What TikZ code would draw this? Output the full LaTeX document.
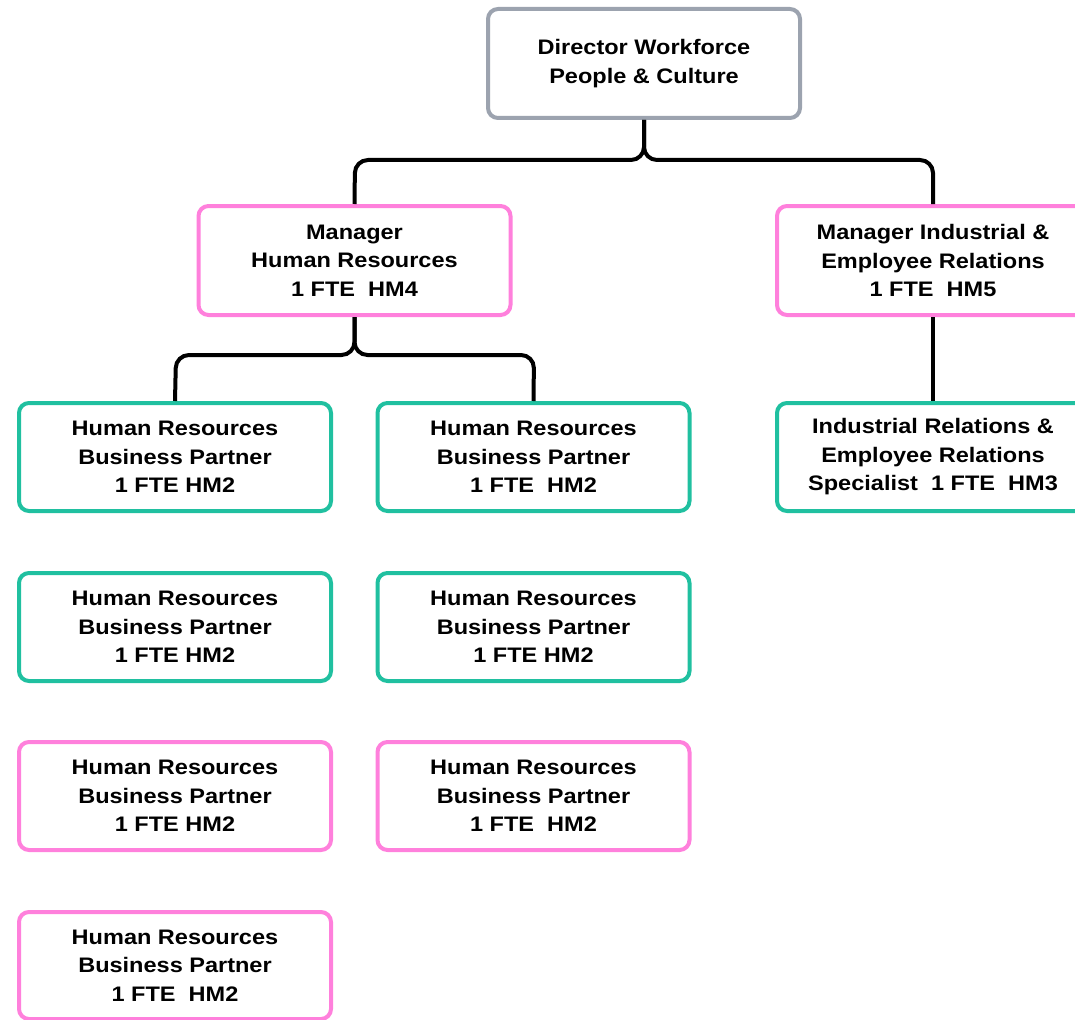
\documentclass[tikz,border=0pt]{standalone}
\usepackage{fontspec}
\setmainfont{Liberation Sans}[FakeStretch=1.12]
\begin{document}
\begin{tikzpicture}[x=1pt,y=-1pt,
  box/.style={draw, line width=4pt, rounded corners=10pt, fill=white,
    minimum width=312pt, minimum height=108pt, align=center, inner sep=0pt,
    font=\fontsize{21}{28.5}\selectfont\bfseries},
  graybox/.style={box, draw=dirgray},
  pinkbox/.style={box, draw=mgrpink},
  tealbox/.style={box, draw=bpteal},
  conn/.style={draw=black, line width=4pt, rounded corners=13pt}]
\definecolor{dirgray}{RGB}{156,163,175}
\definecolor{mgrpink}{RGB}{255,128,220}
\definecolor{bpteal}{RGB}{32,192,160}
\useasboundingbox (0,0) rectangle (1075,1019);
\begin{scope}
\clip (0,0) rectangle (1075,1019);
% connectors
\coordinate (jdl) at (355,160);
\coordinate (jdr) at (933,160);
\coordinate (jhl) at (176,355);
\coordinate (jhr) at (534,355);
\node[graybox, minimum height=109pt] (dir) at (644,63.5) {Director Workforce\\People \& Culture};
\node[pinkbox, minimum height=109pt] (mhr) at (354.5,260.5) {Manager\\Human Resources\\1 FTE~~HM4};
\node[pinkbox, minimum height=109pt] (mir) at (933,260.5) {Manager Industrial \&\\Employee Relations\\1 FTE~~HM5};
\node[tealbox] (b1l) at (175,457) {Human Resources\\Business Partner\\1 FTE HM2};
\node[tealbox] (b1m) at (533.5,457) {Human Resources\\Business Partner\\1 FTE~~HM2};
\node[tealbox] (irs) at (933,457) {Industrial Relations \&\\Employee Relations\\Specialist~~1 FTE~~HM3};
\node[tealbox] (b2l) at (175,627) {Human Resources\\Business Partner\\1 FTE HM2};
\node[tealbox] (b2m) at (533.5,627) {Human Resources\\Business Partner\\1 FTE HM2};
\node[pinkbox] (b3l) at (175,796) {Human Resources\\Business Partner\\1 FTE HM2};
\node[pinkbox] (b3m) at (533.5,796) {Human Resources\\Business Partner\\1 FTE~~HM2};
\node[pinkbox, minimum height=107pt] (b4l) at (175,965.5) {Human Resources\\Business Partner\\1 FTE~~HM2};
\draw[conn] (dir.south) |- (jdl) -- (mhr.north);
\draw[conn] (dir.south) |- (jdr) -- (mir.north);
\draw[conn] (mhr.south) |- (jhl) -- (b1l.north);
\draw[conn] (mhr.south) |- (jhr) -- (b1m.north);
\draw[conn] (mir.south) -- (irs.north);
\end{scope}
\end{tikzpicture}
\end{document}
